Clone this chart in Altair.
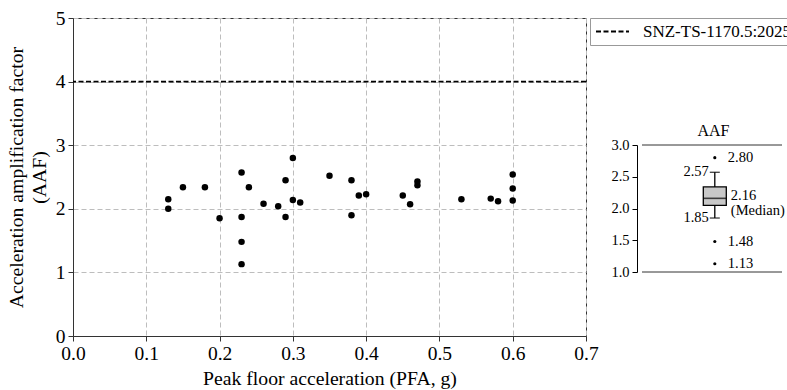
import altair as alt
import pandas as pd

# ---------------- data ----------------
pfa = [0.13, 0.13, 0.15, 0.18, 0.20, 0.23, 0.23, 0.23, 0.23, 0.24, 0.26,
       0.28, 0.29, 0.29, 0.30, 0.30, 0.31, 0.35, 0.38, 0.38, 0.39, 0.40,
       0.45, 0.46, 0.47, 0.47, 0.53, 0.57, 0.58, 0.60, 0.60, 0.60]
aaf = [2.15, 2.00, 2.34, 2.34, 1.85, 2.57, 1.87, 1.48, 1.13, 2.34, 2.08,
       2.04, 2.45, 1.87, 2.80, 2.14, 2.10, 2.52, 2.45, 1.90, 2.21, 2.23,
       2.21, 2.07, 2.43, 2.37, 2.15, 2.16, 2.12, 2.54, 2.32, 2.13]

code_name = "SNZ-TS-1170.5:2025"
code_limit = [4.0]

box_q1 = [2.05]
box_median = [2.16]
box_q3 = [2.34]
whisker_ends = [2.57, 1.85]
outliers = [2.80, 1.48, 1.13]

x_ticks = [0.0, 0.1, 0.2, 0.3, 0.4, 0.5, 0.6, 0.7]
y_ticks = [0, 1, 2, 3, 4, 5]
inset_ticks = [1.0, 1.5, 2.0, 2.5, 3.0]

FONT = "Liberation Serif"

pts = pd.DataFrame({"pfa": pfa, "aaf": aaf})
limit_df = pd.DataFrame({"aaf": code_limit, "series": [code_name]})
box_df = pd.DataFrame({"q1": box_q1, "q3": box_q3, "med": box_median,
                       "lo": [min(whisker_ends)], "hi": [max(whisker_ends)]})
whisk_df = pd.DataFrame({"v": whisker_ends})
out_df = pd.DataFrame({"v": outliers})
med_df = pd.DataFrame({"v": box_median})

# ---------------- main plot ----------------
xscale = alt.Scale(domain=[0, 0.7], nice=False, zero=False)
yscale = alt.Scale(domain=[0, 5], nice=False)

grid_kw = dict(grid=True, gridDash=[5, 3], gridColor="#bdbdbd", gridWidth=1)

points = alt.Chart(pts).mark_circle(size=42, color="black", opacity=1).encode(
    x=alt.X("pfa:Q", scale=xscale,
            axis=alt.Axis(values=x_ticks, format=".1f",
                          title="Peak floor acceleration (PFA, g)",
                          labelFontSize=19.5, titleFontSize=19.7,
                          labelFlush=False, labelOverlap=False,
                          labelPadding=3, titlePadding=6, tickSize=5,
                          **grid_kw)),
    y=alt.Y("aaf:Q", scale=yscale,
            axis=alt.Axis(values=y_ticks, format="d",
                          title=["Acceleration amplification factor", "(AAF)"],
                          labelFontSize=19.5, titleFontSize=19.7, titleLineHeight=23,
                          labelFlush=False, labelOverlap=False,
                          labelPadding=3, titlePadding=6, tickSize=5,
                          **grid_kw)),
)

limit = alt.Chart(limit_df).mark_rule(color="black", strokeWidth=1.8).encode(
    y=alt.Y("aaf:Q", scale=yscale),
    strokeDash=alt.StrokeDash(
        "series:N",
        scale=alt.Scale(domain=[code_name], range=[[5, 2.5]]),
        legend=alt.Legend(title=None, orient="none", legendX=517, legendY=0,
                          symbolType="stroke", symbolSize=1089,
                          symbolStrokeColor="black", symbolStrokeWidth=1.8,
                          labelFont=FONT, labelFontSize=17, labelLimit=400,
                          labelOffset=13, padding=5, clipHeight=17,
                          strokeColor="#999999",
                          fillColor="white", labelColor="black"),
    ),
)

main = alt.layer(points, limit)

# ---------------- inset box plot ----------------
ix = alt.Scale(domain=[0, 1], range=[564, 714], nice=False, zero=False)
iy = alt.Scale(domain=[1, 3], range=[254, 127], nice=False, zero=False)
inset_axis = alt.Axis(orient="left", offset=-564, values=inset_ticks,
                      format=".1f", grid=False, title=None, labelFontSize=14.5,
                      labelFlush=False, labelOverlap=False,
                      tickSize=5, labelPadding=3, domainColor="black",
                      tickColor="black")
BX = 0.52


def xpos(v=BX):
    return alt.XDatum(v, type="quantitative", scale=ix, axis=None)


def yfield(f):
    return alt.Y(f"{f}:Q", scale=iy, axis=inset_axis)


frame_top = alt.Chart(box_df).mark_rule(color="#333333", strokeWidth=1).encode(
    x=alt.XDatum(0, type="quantitative", scale=ix, axis=None),
    x2=alt.X2Datum(1),
    y=alt.YDatum(3.0, type="quantitative", scale=iy, axis=inset_axis),
)
frame_bot = alt.Chart(box_df).mark_rule(color="#333333", strokeWidth=1).encode(
    x=alt.XDatum(0, type="quantitative", scale=ix, axis=None),
    x2=alt.X2Datum(1),
    y=alt.YDatum(1.0, type="quantitative", scale=iy, axis=inset_axis),
)
whisker = alt.Chart(box_df).mark_rule(color="black", strokeWidth=1.3).encode(
    x=xpos(), y=yfield("lo"), y2="hi:Q")
box = alt.Chart(box_df).mark_bar(size=23, fill="#c8c8c8", stroke="black",
                                 strokeWidth=1.3).encode(
    x=xpos(), y=yfield("q1"), y2="q3:Q")
median = alt.Chart(med_df).mark_tick(orient="horizontal", size=23, thickness=1.6,
                                     color="black").encode(x=xpos(), y=yfield("v"))
caps = alt.Chart(whisk_df).mark_tick(orient="horizontal", size=10, thickness=1.4,
                                     color="black").encode(x=xpos(), y=yfield("v"))
out_pts = alt.Chart(out_df).mark_circle(size=10, color="black", opacity=1).encode(
    x=xpos(), y=yfield("v"))
out_lbl = alt.Chart(out_df).mark_text(align="left", baseline="middle", dx=13,
                                      font=FONT, fontSize=14.5, color="black").encode(
    x=xpos(), y=yfield("v"), text=alt.Text("v:Q", format=".2f"))
whisk_lbl = alt.Chart(whisk_df).mark_text(align="right", baseline="middle", dx=-6,
                                          font=FONT, fontSize=14.5, color="black").encode(
    x=xpos(), y=yfield("v"), text=alt.Text("v:Q", format=".2f"))
med_lbl = alt.Chart(med_df).mark_text(align="left", baseline="middle", dx=16, dy=-2,
                                      font=FONT, fontSize=14.5, color="black").encode(
    x=xpos(), y=yfield("v"), text=alt.Text("v:Q", format=".2f"))
med_word = alt.Chart(med_df).mark_text(align="left", baseline="middle", dx=16, dy=13,
                                       font=FONT, fontSize=14.5, color="black",
                                       text="(Median)").encode(
    x=xpos(), y=yfield("v"))
inset_title = alt.Chart(med_df).mark_text(align="center", baseline="middle", dy=-14,
                                          font=FONT, fontSize=16, color="black",
                                          text="AAF").encode(
    x=xpos(0.51), y=alt.YDatum(3.0, type="quantitative", scale=iy, axis=inset_axis))

inset = alt.layer(frame_top, frame_bot, whisker, box, median, caps, out_pts,
                  out_lbl, whisk_lbl, med_lbl, med_word, inset_title)

chart = alt.layer(main, inset).resolve_scale(
    x="independent", y="independent", strokeDash="independent"
).properties(
    width=513, height=318,
    autosize=alt.AutoSizeParams(type="none"),
    padding={"left": 73, "top": 18, "right": 201, "bottom": 54},
).configure_view(
    stroke="#333333", strokeWidth=1
).configure_axis(
    labelFont=FONT, titleFont=FONT, labelColor="black", titleColor="black",
    titleFontWeight="normal", domainColor="#333333", tickColor="#333333",
)

chart.save("out.html", embed_options={"renderer": "svg", "actions": False})
